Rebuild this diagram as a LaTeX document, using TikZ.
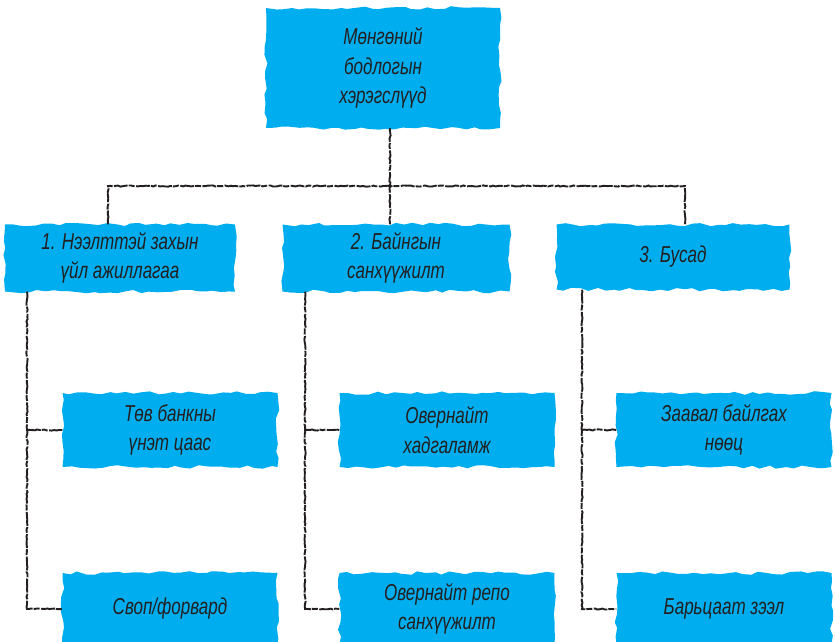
\documentclass[tikz,border=0pt]{standalone}
\usepackage{fontspec}
\setmainfont{Liberation Sans}[FakeStretch=0.74]
\usetikzlibrary{decorations.pathmorphing}
\definecolor{boxblue}{HTML}{00AEEF}
\definecolor{ink}{HTML}{231F20}
\begin{document}
\begin{tikzpicture}[x=1pt,y=-1pt,
  box/.style={fill=boxblue, draw=none, decorate,
    decoration={random steps,segment length=8pt,amplitude=1.8pt},
    text=ink, font=\fontsize{23}{29.5}\selectfont\itshape, align=center,
    inner sep=0pt},
  sketch/.style={draw=ink, line width=1.9pt, decorate,
    decoration={random steps,segment length=2.5pt,amplitude=0.6pt},
    dash pattern=on 14pt off 1pt on 6pt off 1.5pt}]
\useasboundingbox (0,0) rectangle (835,641);
\clip (0,0) rectangle (835,641);
% boxes
\node[box, minimum width=234pt, minimum height=120pt] (top) at (383,68) {Мөнгөний\\бодлогын\\хэрэгслүүд};
\node[box, minimum width=230pt, minimum height=67pt] (a1) at (120,258) {1. Нээлттэй захын\\үйл ажиллагаа};
\node[box, minimum width=227pt, minimum height=67pt] (a2) at (396,258) {2. Байнгын\\санхүүжилт};
\node[box, minimum width=233pt, minimum height=65pt] (a3) at (673,257) {3. Бусад};
\node[box, minimum width=215pt, minimum height=74pt] (b1) at (170,430) {Төв банкны\\үнэт цаас};
\node[box, minimum width=215pt, minimum height=74pt] (b2) at (447,430) {Овернайт\\хадгаламж};
\node[box, minimum width=215pt, minimum height=74pt] (b3) at (724,430) {Заавал байлгах\\нөөц};
\node[box, minimum width=215pt, minimum height=72pt] (c1) at (170,609) {Своп/форвард};
\node[box, minimum width=215pt, minimum height=72pt] (c2) at (447,609) {Овернайт репо\\санхүүжилт};
\node[box, minimum width=215pt, minimum height=72pt] (c3) at (724,609) {Барьцаат зээл};
% connectors
\coordinate (j) at (390,186);
\coordinate (jl) at (108,186);
\coordinate (jr) at (685,186);
\draw[sketch] (j |- top.south) -- (j) -- (j |- a2.north);
\draw[sketch] (jl |- a1.north) -- (jl) -- (jr) -- (jr |- a3.north);
\coordinate (v1) at (27,609);
\coordinate (v2) at (305,609);
\coordinate (v3) at (582,609);
\draw[sketch] (v1 |- a1.south) -- (v1) -- (c1.west);
\draw[sketch] (v1 |- b1.west) -- (b1.west);
\draw[sketch] (v2 |- a2.south) -- (v2) -- (c2.west);
\draw[sketch] (v2 |- b2.west) -- (b2.west);
\draw[sketch] (v3 |- a3.south) -- (v3) -- (c3.west);
\draw[sketch] (v3 |- b3.west) -- (b3.west);
\end{tikzpicture}
\end{document}
